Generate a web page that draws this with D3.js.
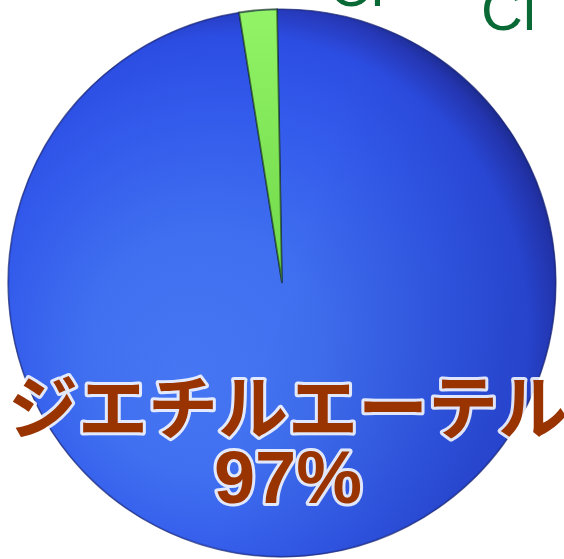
<!DOCTYPE html>
<html>
<head>
<meta charset="utf-8">
<script src="https://cdn.jsdelivr.net/npm/d3@7/dist/d3.min.js"></script>
<style>
  html, body { margin: 0; padding: 0; background: #fff; }
  svg { display: block; }
</style>
</head>
<body>
<svg id="chart" width="564" height="559"></svg>
<script>
// Solvent composition
const categories = ["ジエチルエーテル", "その他"];
const values = [97, 2.2];

const W = 564, H = 559;
const cx = 282, cy = 283, R = 274;

const svg = d3.select("#chart");
const defs = svg.append("defs");

// Shading for the blue slice (coordinates relative to the pie centre)
const gBlue = defs.append("radialGradient")
  .attr("id", "blueShade")
  .attr("gradientUnits", "userSpaceOnUse")
  .attr("cx", -40).attr("cy", 40).attr("r", R + 60)
  .attr("fx", -100).attr("fy", 90);
[[0, "#4676f2"], [0.35, "#4070f0"], [0.7, "#3259eb"], [0.88, "#2c4de2"], [0.96, "#2638b8"], [1, "#1c2c8e"]]
  .forEach(([o, c]) => gBlue.append("stop").attr("offset", o).attr("stop-color", c));

const gGreen = defs.append("linearGradient")
  .attr("id", "greenShade").attr("x1", 0).attr("y1", 0).attr("x2", 0).attr("y2", 1);
[[0, "#92f466"], [1, "#6fd84a"]]
  .forEach(([o, c]) => gGreen.append("stop").attr("offset", o).attr("stop-color", c));

// Right-side darkening overlay
const gSide = defs.append("linearGradient")
  .attr("id", "sideShade").attr("x1", 0).attr("y1", 0).attr("x2", 1).attr("y2", 0.3);
[[0, "rgba(10,20,90,0)"], [0.6, "rgba(10,20,90,0)"], [1, "rgba(10,20,90,0.16)"]]
  .forEach(([o, c]) => gSide.append("stop").attr("offset", o).attr("stop-color", c));

const glow = defs.append("filter").attr("id", "glow")
  .attr("x", "-10%").attr("y", "-20%").attr("width", "120%").attr("height", "140%");
glow.append("feGaussianBlur").attr("in", "SourceGraphic").attr("stdDeviation", 0.6);

const fills = ["url(#blueShade)", "url(#greenShade)"];
const edges = ["#1a2570", "#0d2a12"];

// Cropped formula text at the top right
svg.append("text").attr("x", 329).attr("y", 6)
  .attr("font-family", "Liberation Sans, Arial, sans-serif")
  .attr("font-size", 58).attr("fill", "#0a6a35").text("Cl");
svg.append("text").attr("x", 481).attr("y", 30)
  .attr("font-family", "Liberation Sans, Arial, sans-serif")
  .attr("font-size", 58).attr("fill", "#0a6a35").text("Cl");
svg.append("text").attr("x", -6).attr("y", 238)
  .attr("font-family", "Liberation Sans, Arial, sans-serif")
  .attr("font-size", 18).attr("fill", "#222").text("/");

const offset = -0.018;
const pie = d3.pie().sort(null).value(d => d)
  .startAngle(offset).endAngle(2 * Math.PI + offset);
const arcs = pie(values);
const arc = d3.arc().innerRadius(0).outerRadius(R);

const g = svg.append("g").attr("transform", `translate(${cx},${cy})`);

g.selectAll("path.slice").data(arcs).join("path")
  .attr("class", "slice")
  .attr("d", arc)
  .attr("fill", (d, i) => fills[i])
  .attr("stroke", (d, i) => edges[i])
  .attr("stroke-opacity", 0.6)
  .attr("stroke-width", (d, i) => i === 1 ? 1.8 : 1.2);

// side darkening over the whole disc
g.append("circle").attr("r", R).attr("fill", "url(#sideShade)")
  .style("pointer-events", "none");

// soft rim
g.append("circle").attr("r", R - 0.5).attr("fill", "none")
  .attr("stroke", "#18236e").attr("stroke-opacity", 0.3).attr("stroke-width", 1.5);

// Label of the main slice
const labelX = 288;
const label = svg.append("g").attr("font-weight", "bold").attr("text-anchor", "middle")
  .attr("fill", "#993300");

const pct = Math.round(values[0]) + "%";
const lines = [
  { t: categories[0], y: 434, size: 70, fam: "Noto Sans CJK JP, sans-serif" },
  { t: pct, y: 503, size: 74, fam: "Liberation Sans, Arial, sans-serif" }
];
lines.forEach(l => {
  label.append("text").attr("x", labelX).attr("y", l.y)
    .attr("font-size", l.size).attr("font-family", l.fam)
    .attr("stroke", "#ffffff").attr("stroke-width", 6).attr("stroke-linejoin", "round")
    .attr("stroke-opacity", 0.85)
    .attr("filter", "url(#glow)")
    .text(l.t);
  label.append("text").attr("x", labelX).attr("y", l.y)
    .attr("font-size", l.size).attr("font-family", l.fam)
    .text(l.t);
});
</script>
</body>
</html>
